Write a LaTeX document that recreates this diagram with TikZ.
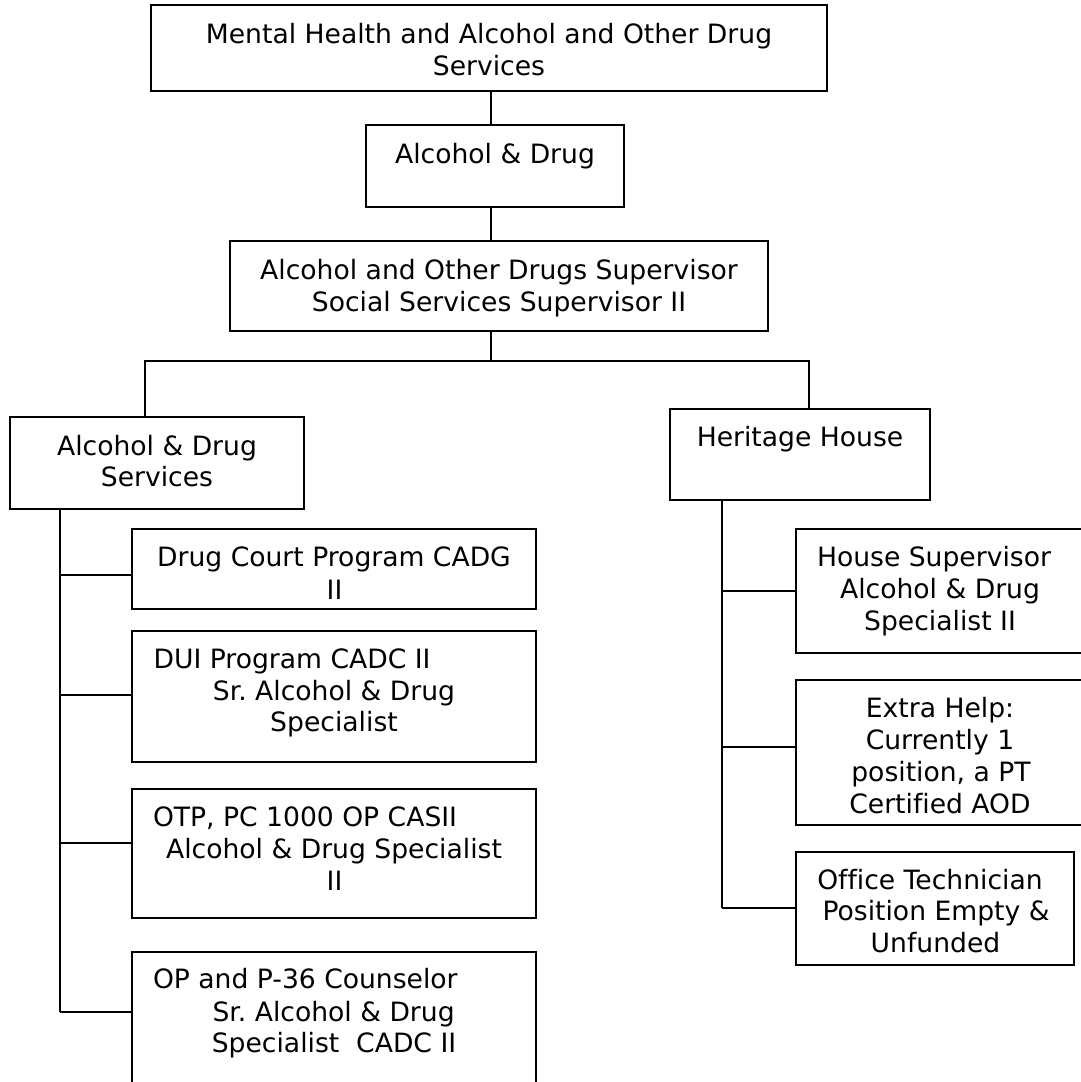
\documentclass[tikz,border=0pt]{standalone}
\usepackage{fontspec}
\setmainfont{DejaVu Sans}[Ligatures=NoCommon]
\frenchspacing
\begin{document}
\begin{tikzpicture}[x=1pt,y=-1pt,
  box/.style={draw=black,line width=2pt,inner sep=0pt,fill=none},
  txt/.style={inner sep=0pt,anchor=base,font=\fontsize{26.6}{32}\selectfont},
  txtl/.style={txt,anchor=base west},
  conn/.style={draw=black,line width=2pt}]
\useasboundingbox[fill=white] (0,0) rectangle (1081,1082);
\clip (0,0) rectangle (1081,1082);
% boxes
\node[box,minimum width=676pt,minimum height=86pt] (b1) at (489,48) {};
\node[box,minimum width=258pt,minimum height=82pt] (b2) at (495,166) {};
\node[box,minimum width=538pt,minimum height=90pt] (b3) at (499,286) {};
\node[box,minimum width=294pt,minimum height=92pt] (b4) at (157,463) {};
\node[box,minimum width=260pt,minimum height=91pt] (b5) at (800,454.5) {};
\node[box,minimum width=404pt,minimum height=80pt] (cA) at (334,569) {};
\node[box,minimum width=404pt,minimum height=131pt] (cB) at (334,696.5) {};
\node[box,minimum width=404pt,minimum height=129pt] (cC) at (334,853.5) {};
\node[box,minimum width=404pt,minimum height=143pt] (cD) at (334,1023.5) {};
\node[box,minimum width=288pt,minimum height=124pt] (rA) at (940,591) {};
\node[box,minimum width=288pt,minimum height=145pt] (rB) at (940,752.5) {};
\node[box,minimum width=278pt,minimum height=113pt] (rC) at (935,908.5) {};
% texts
\node[txt] (t1a) at (489,43) {Mental Health and Alcohol and Other Drug};
\node[txt] (t1b) at (489,75) {Services};
\node[txt] (t2a) at (495,163) {Alcohol \& Drug};
\node[txt] (t3a) at (499,279) {Alcohol and Other Drugs Supervisor};
\node[txt] (t3b) at (499,311.5) {Social Services Supervisor II};
\node[txt] (t4a) at (157,455) {Alcohol \& Drug};
\node[txt] (t4b) at (157,486) {Services};
\node[txt] (t5a) at (800,446.5) {Heritage House};
\node[txt] (tAa) at (334,566.7) {Drug Court Program CADG};
\node[txt] (tAb) at (334.5,599) {II};
\node[txtl] (tBa) at (153.4,668) {DUI Program CADC II};
\node[txt] (tBb) at (334,700) {Sr. Alcohol \& Drug};
\node[txt] (tBc) at (334,731.7) {Specialist};
\node[txtl] (tCa) at (152.8,826) {OTP, PC 1000 OP CASII};
\node[txt] (tCb) at (334,858) {Alcohol \& Drug Specialist};
\node[txt] (tCc) at (334.5,890) {II};
\node[txtl] (tDa) at (152.8,988) {OP and P-36 Counselor};
\node[txt] (tDb) at (333.6,1021.7) {Sr. Alcohol \& Drug};
\node[txt] (tDc) at (334,1052.7) {Specialist\ \ CADC II};
\node[txt] (rAa) at (934,566.7) {House Supervisor};
\node[txt] (rAb) at (940,598.3) {Alcohol \& Drug};
\node[txt] (rAc) at (940,630) {Specialist II};
\node[txt] (rBa) at (940,717) {Extra Help:};
\node[txt] (rBb) at (940,749) {Currently 1};
\node[txt] (rBc) at (941,781) {position, a PT};
\node[txt] (rBd) at (940,813) {Certified AOD};
\node[txt] (rCa) at (930,889) {Office Technician};
\node[txt] (rCb) at (936,920.7) {Position Empty \&};
\node[txt] (rCc) at (935.5,952.7) {Unfunded};
% connector coordinates
\coordinate (tr) at (490.7,0);
\coordinate (busL) at (145,361);
\coordinate (busR) at (809,361);
\coordinate (lt) at (60,0);
\coordinate (rt) at (722,0);
\coordinate (jA) at (60,575);
\coordinate (jB) at (60,695);
\coordinate (jC) at (60,843);
\coordinate (jD) at (60,1012);
\coordinate (kA) at (722,591);
\coordinate (kB) at (722,747);
\coordinate (kC) at (722,908);
% connectors
\draw[conn] (b1.south -| tr) -- (b2.north -| tr);
\draw[conn] (b2.south -| tr) -- (b3.north -| tr);
\draw[conn] (b3.south -| tr) -- (busL -| tr);
\draw[conn] (b4.north -| busL) -- (busL) -- (busR) -- (b5.north -| busR);
\draw[conn] (b4.south -| lt) -- (jD);
\draw[conn] (jA) -- (jA -| cA.west);
\draw[conn] (jB) -- (jB -| cB.west);
\draw[conn] (jC) -- (jC -| cC.west);
\draw[conn] (jD) -- (jD -| cD.west);
\draw[conn] (b5.south -| rt) -- (kC);
\draw[conn] (kA) -- (kA -| rA.west);
\draw[conn] (kB) -- (kB -| rB.west);
\draw[conn] (kC) -- (kC -| rC.west);
\end{tikzpicture}
\end{document}
